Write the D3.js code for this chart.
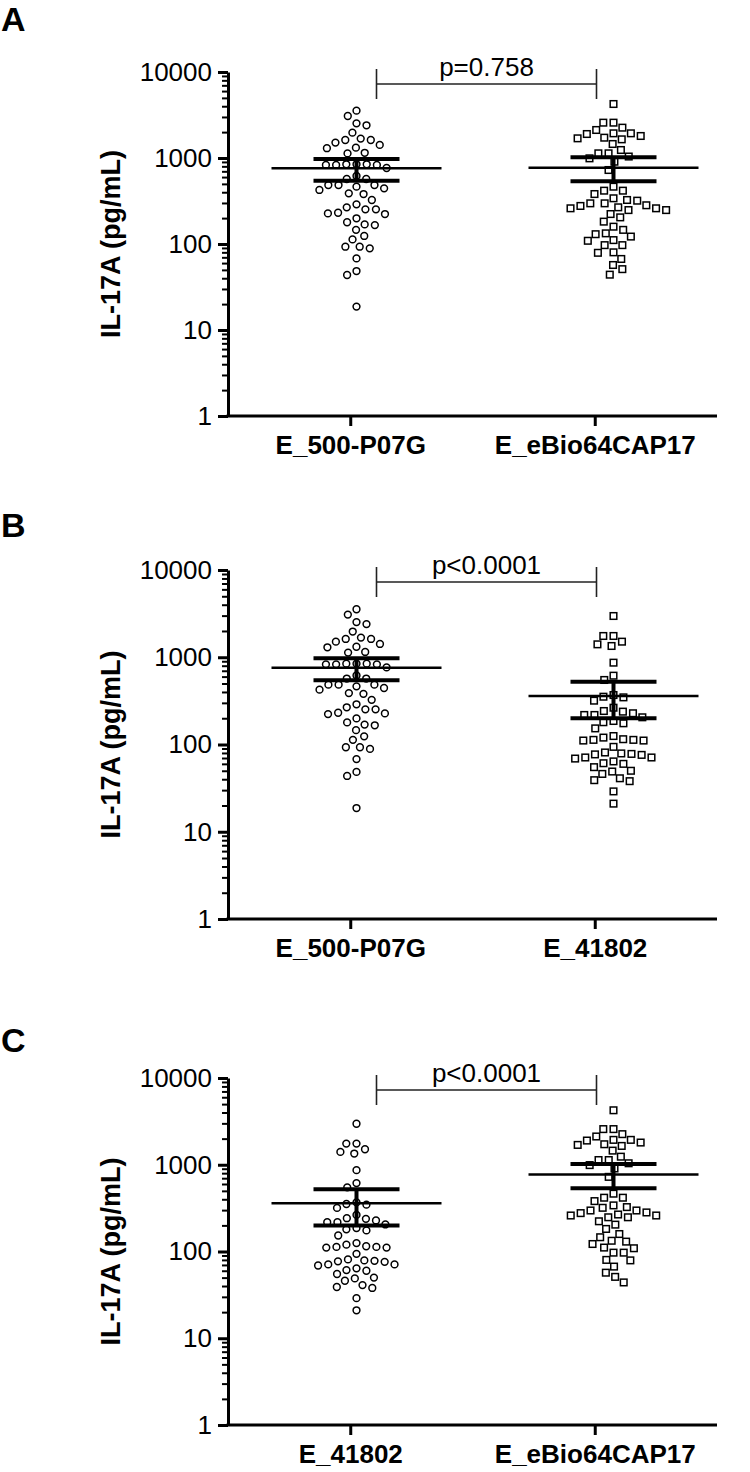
<!DOCTYPE html>
<html>
<head>
<meta charset="utf-8">
<script src="https://cdn.jsdelivr.net/npm/d3@7"></script>
<style>
  body { margin: 0; background: #fff; }
  svg { display: block; font-family: "Liberation Sans", Arial, sans-serif; }
</style>
</head>
<body>
<div id="chart"></div>
<script>
// ---- data ----
var yTickValues = [1, 10, 100, 1000, 10000];
var groupNames = ["E_500-P07G", "E_eBio64CAP17", "E_41802"];

// IL-17A values (pg/mL) per group
var values500 = [3550, 3080, 2530, 2400, 1970, 1680, 1620, 1510, 1620, 1420, 1300, 1320, 1130, 1150,
    845, 830, 765, 830, 830, 845, 845, 618, 570, 570, 485, 485, 444, 464, 485, 425, 381, 388, 325,
    289, 253, 231, 223, 227, 253, 267, 199, 169, 166, 179, 146, 124, 113, 93, 93, 89, 68, 48.5, 43.6, 18.7];
var valuesEBio = [4245, 2576, 2576, 2253, 1936, 1936, 2117, 1901, 1803, 1693, 1648, 1723, 1455, 1239,
    1133, 991, 1133, 906, 725, 1040, 464, 417, 340, 381, 417, 319, 297, 277, 260, 248, 223, 248, 260,
    267, 282, 297, 325, 204, 182, 159, 146, 122, 133, 130, 109, 111, 97, 97, 79, 80, 67, 57, 51, 44];
var values41802 = [2970, 1753, 1406, 1346, 1509, 1753, 867, 549, 615, 353, 318, 347, 369, 264, 238, 242,
    228, 205, 180, 153, 175, 186, 218, 218, 120, 113, 111, 111, 113, 115, 125, 94, 81, 78, 71, 64, 60,
    76, 77, 79, 69, 71, 50, 46, 55, 61, 49, 38, 39, 41, 29, 21];

var groupValues = [values500, valuesEBio, values41802];
// mean and 95% CI per group
var groupMean = [759, 771, 360];
var groupCILow = [545, 536, 200];
var groupCIHigh = [973, 1019, 523];

// panels: letter, which groups (left, right), p-value text
var panelLetters = ["A", "B", "C"];
var panelPairs = [[0, 1], [0, 2], [2, 1]];
var panelP = ["p=0.758", "p<0.0001", "p<0.0001"];

// ---- layout ----
var W = 750, H = 1472;
var axisX = 228, axisRight = 717;
var panelTop = [72, 570, 1078],
    panelBottom = [416, 919, 1425],
    letterY = [31, 537, 1052];

var svg = d3.select("#chart").append("svg")
    .attr("width", W)
    .attr("height", H);

// simple beeswarm: place each point at the nearest free x to the centre
function swarm(vals, y, D) {
    var pts = vals.map(function(v) { return {v: v, y: y(v), x: 0}; })
        .sort(function(a, b) { return a.y - b.y; });
    var placed = [];
    pts.forEach(function(p) {
        var cands = [0];
        placed.forEach(function(q) {
            var dy = q.y - p.y;
            if (Math.abs(dy) < D) {
                var dx = Math.sqrt(D * D - dy * dy);
                cands.push(q.x + dx, q.x - dx);
            }
        });
        cands.sort(function(a, b) { return Math.abs(a) - Math.abs(b) || a - b; });
        for (var i = 0; i < cands.length; i++) {
            var c = cands[i];
            var ok = placed.every(function(q) {
                return (q.x - c) * (q.x - c) + (q.y - p.y) * (q.y - p.y) >= D * D - 0.01;
            });
            if (ok) { p.x = c; break; }
        }
        placed.push(p);
    });
    return pts;
}

var minorTicks = [];
[1, 10, 100, 1000].forEach(function(d) {
    for (var k = 2; k <= 9; k++) minorTicks.push(d * k);
});

panelLetters.forEach(function(letter, pi) {
    var g = svg.append("g");
    var top = panelTop[pi], bottom = panelBottom[pi];
    var pair = panelPairs[pi].map(function(i) { return groupNames[i]; });

    var y = d3.scaleLog().domain([1, 10000]).range([bottom, top]);
    var xAxisScale = d3.scalePoint().domain(pair).range([axisX, axisRight]).padding(0.5);
    var xData = d3.scalePoint().domain(pair).range([axisX, 742]).padding(0.5);

    // panel letter
    g.append("text")
        .attr("x", 1).attr("y", letterY[pi])
        .style("font-weight", "bold")
        .style("font-size", "34px")
        .text(letter);

    // y axis label
    g.append("text")
        .attr("transform", "translate(120," + ((top + bottom) / 2) + ") rotate(-90)")
        .attr("text-anchor", "middle")
        .style("font-weight", "bold")
        .style("font-size", "27px")
        .text("IL-17A (pg/mL)");

    // minor ticks
    var yMinor = g.append("g")
        .attr("transform", "translate(" + axisX + ",0)")
        .call(d3.axisLeft(y).tickValues(minorTicks).tickSize(6).tickFormat(""));
    yMinor.select(".domain").remove();
    yMinor.selectAll("line").attr("stroke-width", 2);

    // major ticks + labels
    var yAxis = g.append("g")
        .attr("transform", "translate(" + axisX + ",0)")
        .call(d3.axisLeft(y).tickValues(yTickValues).tickSize(10).tickSizeOuter(0)
            .tickPadding(6).tickFormat(d3.format("d")));
    yAxis.select(".domain").attr("stroke-width", 3);
    yAxis.selectAll(".tick line").attr("stroke-width", 3);
    yAxis.selectAll("text").style("font-size", "26px").attr("font-family", null);

    // x axis
    var xAxis = g.append("g")
        .attr("transform", "translate(0," + bottom + ")")
        .call(d3.axisBottom(xAxisScale).tickSize(10).tickSizeOuter(0).tickPadding(10));
    xAxis.select(".domain").attr("stroke-width", 3)
        .attr("d", "M" + (axisX - 1.5) + ",0H" + axisRight);
    xAxis.selectAll(".tick line").attr("stroke-width", 3);
    xAxis.selectAll("text").style("font-size", "26px").style("font-weight", "bold")
        .attr("font-family", null);

    // points
    panelPairs[pi].forEach(function(gi, side) {
        var cx = xData(groupNames[gi]);
        var pts = swarm(groupValues[gi], y, 10.2);
        if (side === 0) {
            g.append("g").selectAll("circle")
                .data(pts).enter().append("circle")
                .attr("cx", function(d) { return cx + d.x; })
                .attr("cy", function(d) { return d.y; })
                .attr("r", 3.4)
                .attr("fill", "#fff")
                .attr("stroke", "#000")
                .attr("stroke-width", 1.5);
        } else {
            var s = 6.6;
            g.append("g").selectAll("rect")
                .data(pts).enter().append("rect")
                .attr("x", function(d) { return cx + d.x - s / 2; })
                .attr("y", function(d) { return d.y - s / 2; })
                .attr("width", s).attr("height", s)
                .attr("fill", "#fff")
                .attr("stroke", "#000")
                .attr("stroke-width", 1.5);
        }

        // mean line and CI
        g.append("line")
            .attr("x1", cx - 85).attr("x2", cx + 85)
            .attr("y1", y(groupMean[gi])).attr("y2", y(groupMean[gi]))
            .attr("stroke", "#000").attr("stroke-width", 2.6);
        [groupCILow[gi], groupCIHigh[gi]].forEach(function(v) {
            g.append("line")
                .attr("x1", cx - 43).attr("x2", cx + 43)
                .attr("y1", y(v)).attr("y2", y(v))
                .attr("stroke", "#000").attr("stroke-width", 4);
        });
        g.append("line")
            .attr("x1", cx).attr("x2", cx)
            .attr("y1", y(groupCIHigh[gi])).attr("y2", y(groupCILow[gi]))
            .attr("stroke", "#000").attr("stroke-width", 4);
    });

    // significance bracket
    var bx1 = xData(pair[0]) + 20,
        bx2 = xData(pair[1]) - 17,
        by = top + 12;
    var br = g.append("g").attr("stroke", "#222").attr("stroke-width", 1.6).attr("fill", "none");
    br.append("line").attr("x1", bx1).attr("x2", bx2).attr("y1", by).attr("y2", by);
    br.append("line").attr("x1", bx1).attr("x2", bx1).attr("y1", by - 15).attr("y2", by + 15);
    br.append("line").attr("x1", bx2).attr("x2", bx2).attr("y1", by - 15).attr("y2", by + 15);
    g.append("text")
        .attr("x", (bx1 + bx2) / 2).attr("y", by - 8)
        .attr("text-anchor", "middle")
        .style("font-size", "26px")
        .text(panelP[pi]);
});
</script>
</body>
</html>
